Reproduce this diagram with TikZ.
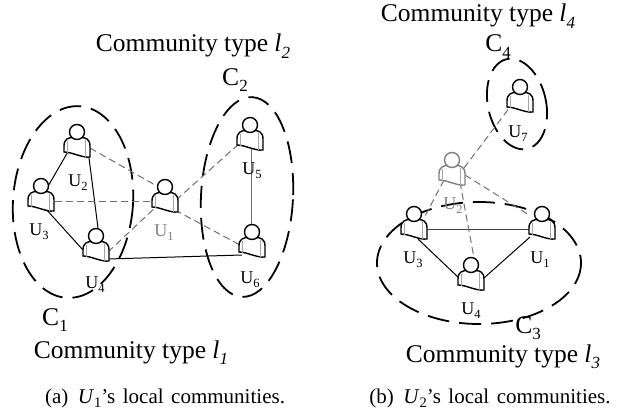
\documentclass[tikz,border=0pt]{standalone}
\usepackage{fontspec}
\setmainfont{Liberation Serif}
\usetikzlibrary{calc}
\definecolor{edgegray}{HTML}{707070}
\definecolor{icongray}{HTML}{808080}
\newcommand\lsub[1]{\raisebox{-0.25em}{\fontsize{12.5}{12.5}\selectfont #1}}
\newcommand\bsub[1]{\raisebox{-0.25em}{\fontsize{17}{17}\selectfont #1}}
\newcommand\csub[1]{\raisebox{-0.22em}{\fontsize{14.5}{15}\selectfont #1}}
\newcommand\widesp{\spaceskip=0.36em\relax}
\tikzset{
  person/.pic={
    \draw[line width=1.4pt, fill=white, pic actions] (-13,20) -- (-13,14) .. controls (-13,7) and (-8.5,5.5) .. (-4,5.5) -- (4,5.5) .. controls (8.5,5.5) and (13,7) .. (13,14) -- (13,25) .. controls (5,26) and (-5,20) .. (-13,20) -- cycle;
    \draw[line width=0.6pt, gray!70, pic actions] (-10,9) -- (-10,20.5) (8.5,8) -- (8.5,24.5);
    \draw[line width=1.4pt, fill=white, pic actions] (0,0) circle (7.5);
  },
  anchorpt/.style={inner sep=0pt, minimum size=0pt},
  solidedge/.style={line width=1pt, black},
  grayedge/.style={line width=1pt, edgegray},
  dashedge/.style={line width=1pt, edgegray, dash pattern=on 7pt off 4pt},
  comm/.style={line width=1.8pt, black, dash pattern=on 22pt off 10pt},
  big/.style={font=\fontsize{25.5}{28}\selectfont, anchor=base, inner sep=0pt},
  lab/.style={font=\fontsize{18}{19}\selectfont, anchor=base, inner sep=0pt},
  captxt/.style={font=\fontsize{21}{24}\selectfont, anchor=base, inner sep=0pt},
}
\begin{document}
\begin{tikzpicture}[x=1pt,y=-1pt]
\useasboundingbox (0,0) rectangle (632,412);

% ---------- panel (a) ----------
\node[anchorpt] (a1) at (165,187) {};
\node[anchorpt] (a2) at (77,132) {};
\node[anchorpt] (a3) at (41,186) {};
\node[anchorpt] (a4) at (96,236) {};
\node[anchorpt] (a5) at (250,125) {};
\node[anchorpt] (a6) at (252,232) {};

% communities
\draw[comm, rotate around={-4:(73,202)}] (73,202) ellipse [x radius=60, y radius=96];
\draw[comm, rotate around={-3:(247,197)}] (247,197) ellipse [x radius=46, y radius=100];

% edges
\draw[solidedge] ($(a2)+(-8,18)$) -- ($(a3)+(6,2)$);
\draw[solidedge] ($(a2)+(11,18)$) -- ($(a4)+(2,-8)$);
\draw[solidedge] ($(a3)+(4,22)$) -- ($(a4)+(-13,14)$);
\draw[solidedge] ($(a4)+(12,23)$) -- ($(a6)+(-10,23)$);
\draw[grayedge] ($(a5)+(1,21)$) -- ($(a6)+(-1,-6)$);
\draw[dashedge] ($(a2)+(13,16)$) -- ($(a1)+(-10,-2)$);
\draw[dashedge] ($(a3)+(14,15)$) -- ($(a1)+(-13,14)$);
\draw[dashedge] ($(a4)+(12,16)$) -- ($(a1)+(-7,18)$);
\draw[dashedge] ($(a1)+(11,13)$) -- ($(a5)+(-10,18)$);
\draw[dashedge] ($(a1)+(10,23)$) -- ($(a6)+(-12,13)$);

% people
\pic at (a1) {person};
\pic at (a2) {person};
\pic at (a3) {person};
\pic at (a4) {person};
\pic at (a5) {person};
\pic at (a6) {person};

\node[lab, text=icongray] (la1) at (164,236) {U\lsub{1}};
\node[lab] (la2) at (78,186) {U\lsub{2}};
\node[lab] (la3) at (39,235) {U\lsub{3}};
\node[lab] (la4) at (95,288) {U\lsub{4}};
\node[lab] (la5) at (252,174) {U\lsub{5}};
\node[lab] (la6) at (250,283) {U\lsub{6}};

\node[big] (ct2) at (193,52) {Community type \textit{l}\bsub{\itshape 2}};
\node[big] (c2) at (235,85) {C\bsub{2}};
\node[big] (c1) at (55,325) {C\bsub{1}};
\node[big] (ct1) at (131,358) {Community type \textit{l}\bsub{\itshape 1}};
\node[captxt] (capa) at (165,403) {\widesp(a)\hspace{0.45em}\textit{U}\csub{1}’s local communities.};

% ---------- panel (b) ----------
\node[anchorpt] (b1) at (542,214) {};
\node[anchorpt] (b2) at (452,160) {};
\node[anchorpt] (b3) at (414,214) {};
\node[anchorpt] (b4) at (471,265) {};
\node[anchorpt] (b7) at (520,87) {};

\draw[comm, rotate around={13:(517,104)}] (517,104) ellipse [x radius=29, y radius=46];
\draw[comm] (479,263) ellipse [x radius=102, y radius=61];

\draw[line width=1pt, black!75] ($(b3)+(13,15)$) -- ($(b1)+(-13,15)$);
\draw[solidedge] ($(b3)+(4,25)$) -- ($(b4)+(-12,13)$);
\draw[solidedge] ($(b4)+(13,13)$) -- ($(b1)+(-12,23)$);
\draw[dashedge] ($(b2)+(8,22)$) -- ($(b4)+(3,-7)$);
\draw[dashedge] ($(b2)+(-8,20)$) -- ($(b3)+(10,4)$);
\draw[dashedge] ($(b2)+(13,15)$) -- ($(b1)+(-13,1)$);
\draw[dashedge] ($(b2)+(12,8)$) -- ($(b7)+(-10,20)$);

\pic[draw=icongray] at (b2) {person};
\pic at (b1) {person};
\pic at (b3) {person};
\pic at (b4) {person};
\pic at (b7) {person};

\node[lab, text=icongray] (lb2) at (453,209) {U\lsub{2}};
\node[lab] (lb7) at (518,137) {U\lsub{7}};
\node[lab] (lb3) at (413,263) {U\lsub{3}};
\node[lab] (lb1) at (540,263) {U\lsub{1}};
\node[lab] (lb4) at (471,314) {U\lsub{4}};

\node[big] (ct4) at (478,22) {Community type \textit{l}\bsub{\itshape 4}};
\node[big] (c4) at (498,52) {C\bsub{4}};
\node[big] (c3) at (528,333) {C\bsub{3}};
\node[big] (ct3) at (503,362) {Community type \textit{l}\bsub{\itshape 3}};
\node[captxt] (capb) at (490,403) {\widesp(b)\hspace{0.45em}\textit{U}\csub{2}’s local communities.};
\end{tikzpicture}
\end{document}
